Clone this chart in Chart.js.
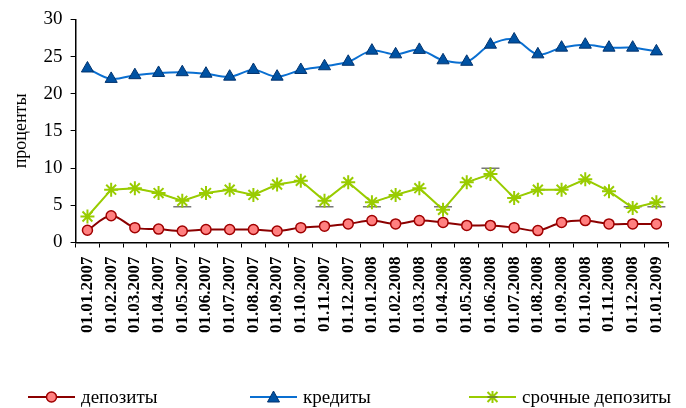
<!DOCTYPE html>
<html>
<head>
<meta charset="utf-8">
<script src="https://cdn.jsdelivr.net/npm/chart.js@4.4.1/dist/chart.umd.min.js"></script>
<style>
  html, body { margin: 0; padding: 0; background: #fff; }
  #wrap { position: relative; width: 686px; height: 408px; }
  #legend { position: absolute; left: 28px; top: 386px; font-family: "Liberation Serif", "DejaVu Serif", serif; font-size: 19px; color: #000; }
  #legend .item { position: absolute; top: 0; white-space: nowrap; display: flex; align-items: center; }
  #legend canvas { margin-right: 6px; }
</style>
</head>
<body>
<div id="wrap">
  <canvas id="myChart"></canvas>
  <div id="legend"></div>
</div>
<script>
var labels = ['01.01.2007', '01.02.2007', '01.03.2007', '01.04.2007', '01.05.2007', '01.06.2007',
  '01.07.2007', '01.08.2007', '01.09.2007', '01.10.2007', '01.11.2007', '01.12.2007',
  '01.01.2008', '01.02.2008', '01.03.2008', '01.04.2008', '01.05.2008', '01.06.2008',
  '01.07.2008', '01.08.2008', '01.09.2008', '01.10.2008', '01.11.2008', '01.12.2008', '01.01.2009'];

// депозиты
var deposits = [1.65, 3.6, 2.0, 1.8, 1.55, 1.75, 1.75, 1.75, 1.55, 2.0, 2.2, 2.5,
  2.95, 2.5, 2.95, 2.7, 2.3, 2.3, 2.0, 1.6, 2.7, 2.95, 2.5, 2.5, 2.5];

// кредиты
var credits = [23.4, 22.0, 22.5, 22.8, 22.9, 22.7, 22.3, 23.2, 22.3, 23.2, 23.7, 24.3,
  25.8, 25.3, 25.9, 24.5, 24.3, 26.6, 27.3, 25.3, 26.2, 26.6, 26.2, 26.2, 25.7];

// срочные депозиты
var termDeposits = [3.5, 7.1, 7.3, 6.65, 5.6, 6.65, 7.1, 6.4, 7.8, 8.3, 5.6, 8.1,
  5.4, 6.4, 7.3, 4.4, 8.1, 9.2, 6.0, 7.1, 7.1, 8.5, 6.9, 4.65, 5.4];

// short dashes seen near some term-deposit points
var termMarks = [null, null, null, null, 4.8, null, null, null, null, null, 4.8, null,
  4.8, null, null, 4.8, null, 10.0, null, null, null, null, null, 4.8, 4.8];

var yTicks = [0, 5, 10, 15, 20, 25, 30];

var serif = '"Liberation Serif", "DejaVu Serif", serif';

// legend swatches: line with marker in the middle
function swatch(lineColor, drawMarker) {
  var c = document.createElement('canvas');
  c.width = 47; c.height = 16;
  var g = c.getContext('2d');
  g.strokeStyle = lineColor; g.lineWidth = 2;
  g.beginPath(); g.moveTo(0, 8); g.lineTo(47, 8); g.stroke();
  drawMarker(g, 23.5, 8);
  return c;
}

var legendItems = [
  { text: 'депозиты', left: 0, icon: swatch('#8b0000', function (g, x, y) {
      g.fillStyle = '#ff8080'; g.strokeStyle = '#a00000'; g.lineWidth = 1.5;
      g.beginPath(); g.arc(x, y, 5, 0, Math.PI * 2); g.fill(); g.stroke();
    }) },
  { text: 'кредиты', left: 222, icon: swatch('#0a6fd1', function (g, x, y) {
      g.fillStyle = '#0052a3'; g.strokeStyle = '#00336e'; g.lineWidth = 1;
      g.beginPath(); g.moveTo(x, y - 6); g.lineTo(x + 6, y + 5); g.lineTo(x - 6, y + 5); g.closePath(); g.fill(); g.stroke();
    }) },
  { text: 'срочные депозиты', left: 441, icon: swatch('#99cc00', function (g, x, y) {
      g.strokeStyle = '#99cc00'; g.lineWidth = 2;
      g.beginPath();
      g.moveTo(x, y - 6); g.lineTo(x, y + 6);
      g.moveTo(x - 5, y - 5); g.lineTo(x + 5, y + 5);
      g.moveTo(x + 5, y - 5); g.lineTo(x - 5, y + 5);
      g.stroke();
      g.strokeStyle = '#555'; g.lineWidth = 1;
      g.beginPath(); g.moveTo(x - 5, y); g.lineTo(x + 5, y); g.stroke();
    }) }
];

var legendEl = document.getElementById('legend');
legendItems.forEach(function (it) {
  var d = document.createElement('div');
  d.className = 'item';
  d.style.left = it.left + 'px';
  d.appendChild(it.icon);
  var s = document.createElement('span');
  s.textContent = it.text;
  d.appendChild(s);
  legendEl.appendChild(d);
});

function makeChart() {
  var ctx = document.getElementById('myChart').getContext('2d');
  return new Chart(ctx, {
    type: 'line',
    data: {
      labels: labels,
      datasets: [{
        label: 'кредиты',
        data: credits,
        borderColor: '#0a6fd1',
        borderWidth: 2,
        tension: 0.35,
        pointStyle: 'triangle',
        pointRadius: 7,
        pointBackgroundColor: '#0052a3',
        pointBorderColor: '#00336e',
        pointBorderWidth: 1
      }, {
        label: 'срочные депозиты',
        data: termDeposits,
        borderColor: '#99cc00',
        borderWidth: 2,
        tension: 0,
        pointStyle: 'star',
        pointRadius: 7,
        pointBorderColor: '#99cc00',
        pointBorderWidth: 2
      }, {
        label: 'overlay',
        data: termDeposits,
        borderColor: 'rgba(90,90,90,0.85)',
        borderWidth: 1,
        borderDash: [8, 8],
        tension: 0,
        pointRadius: 0
      }, {
        label: 'marks',
        data: termMarks,
        showLine: false,
        pointStyle: 'line',
        pointRadius: 9,
        pointBorderColor: '#777',
        pointBorderWidth: 1.5
      }, {
        label: 'депозиты',
        data: deposits,
        borderColor: '#8b0000',
        borderWidth: 2,
        tension: 0.35,
        pointStyle: 'circle',
        pointRadius: 5,
        pointBackgroundColor: '#ff8080',
        pointBorderColor: '#a00000',
        pointBorderWidth: 1.5
      }]
    },
    options: {
      responsive: true,
      maintainAspectRatio: false,
      animation: false,
      layout: { padding: { top: 19, right: 2, left: 6, bottom: 0 } },
      plugins: {
        legend: { display: false },
        tooltip: { enabled: false }
      },
      scales: {
        x: {
          offset: true,
          grid: { offset: true, drawOnChartArea: false, drawTicks: true, tickLength: 5, color: '#000' },
          border: { color: '#000', width: 1.5 },
          ticks: {
            minRotation: 90, maxRotation: 90, autoSkip: false,
            color: '#000', padding: 9,
            font: { family: serif, size: 17, weight: 'bold' }
          },
          afterFit: function (scale) { scale.height += 66; }
        },
        y: {
          min: 0, max: 30,
          afterBuildTicks: function (axis) {
            axis.ticks = yTicks.map(function (v) { return { value: v }; });
          },
          grid: { drawOnChartArea: false, drawTicks: true, tickLength: 5, color: '#000' },
          border: { color: '#000', width: 1.5 },
          ticks: { color: '#000', padding: 8, font: { family: serif, size: 19 } },
          title: { display: true, text: 'проценты', color: '#000', padding: 4, font: { family: serif, size: 18 } }
        }
      }
    }
  });
}

var myChart;
document.fonts.load('bold 17px "Liberation Serif"').then(function () {
  return document.fonts.load('17px "Liberation Serif"');
}).then(function () {
  myChart = makeChart();
}, function () {
  myChart = makeChart();
});
</script>
</body>
</html>
